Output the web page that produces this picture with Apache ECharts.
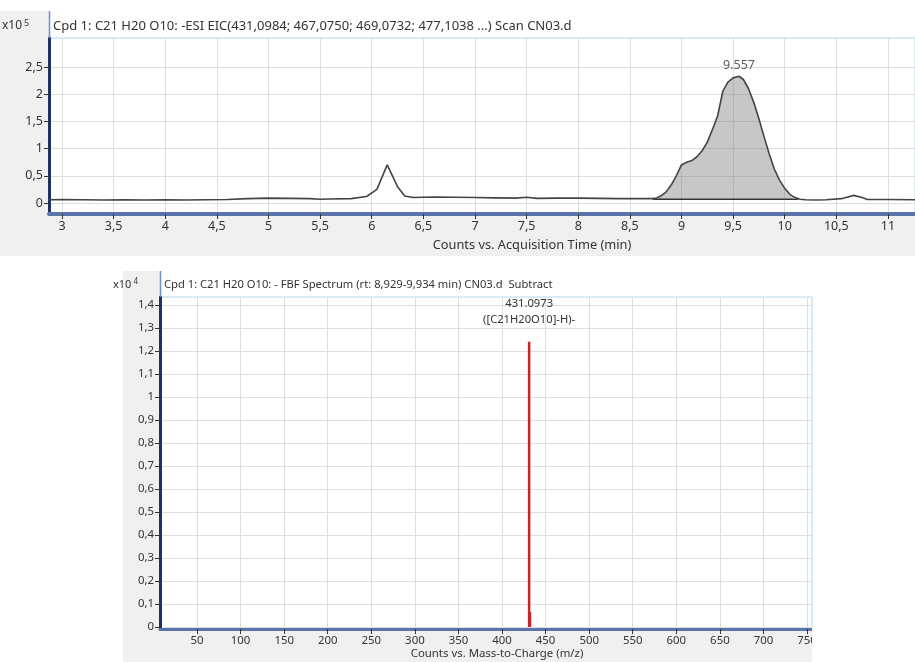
<!DOCTYPE html>
<html>
<head>
<meta charset="utf-8">
<script src="https://cdn.jsdelivr.net/npm/echarts@6/dist/echarts.min.js"></script>
<style>
html,body{margin:0;padding:0;background:#fff;}
#c{width:915px;height:662px;}
</style>
</head>
<body>
<div id="c"></div>
<script>
// ---- Top chart: EIC (x10^5 counts vs time, min)
const eicTime = [2.87,3.0,3.2,3.4,3.6,3.8,4.0,4.2,4.4,4.6,4.8,5.0,5.2,5.4,5.5,5.6,5.8,5.95,6.05,6.15,6.25,6.32,6.4,6.6,6.8,7.0,7.2,7.4,7.5,7.6,7.8,8.0,8.2,8.4,8.5,8.6,8.7,8.75,8.8,8.85,8.9,8.95,9.0,9.05,9.1,9.15,9.2,9.25,9.3,9.35,9.4,9.45,9.5,9.557,9.6,9.65,9.7,9.75,9.8,9.85,9.9,9.95,10.0,10.05,10.1,10.15,10.2,10.3,10.4,10.55,10.67,10.75,10.8,11.0,11.27];
const eicValue = [0.06,0.065,0.06,0.055,0.06,0.055,0.06,0.055,0.06,0.065,0.08,0.09,0.085,0.08,0.07,0.075,0.08,0.12,0.25,0.70,0.30,0.13,0.10,0.11,0.105,0.10,0.095,0.09,0.105,0.085,0.09,0.09,0.085,0.08,0.08,0.08,0.08,0.085,0.13,0.2,0.33,0.5,0.7,0.75,0.78,0.85,0.96,1.12,1.35,1.6,2.05,2.22,2.3,2.33,2.27,2.1,1.85,1.55,1.22,0.9,0.62,0.42,0.27,0.16,0.1,0.07,0.06,0.055,0.06,0.08,0.14,0.1,0.065,0.065,0.06];
const peakRange = [8.72, 10.13];
const peakBase = 0.07;
const peakApex = [9.557, 2.33];
const peakApexLabel = '9.557';
const eicXTicks = [3,3.5,4,4.5,5,5.5,6,6.5,7,7.5,8,8.5,9,9.5,10,10.5,11];
const eicYTicks = [0,0.5,1,1.5,2,2.5];

// ---- Bottom chart: spectrum (x10^4 counts vs m/z)
const specMz = [431.0973, 432.1];
const specValue = [1.24, 0.065];
const specLabel = ['431.0973\n([C21H20O10]-H)-', ''];
const specXTicks = [50,100,150,200,250,300,350,400,450,500,550,600,650,700,750];
const specYTicks = [0,0.1,0.2,0.3,0.4,0.5,0.6,0.7,0.8,0.9,1,1.1,1.2,1.3,1.4];

const FONT = 'Noto Sans';
const comma = v => String(+v.toFixed(2)).replace('.', ',');

const eicData = eicTime.map((t,i)=>[t, eicValue[i]]);
const peakData = eicData.filter(d => d[0] >= peakRange[0] && d[0] <= peakRange[1]);
const specData = specMz.map((m,i)=>({value:[m, specValue[i]], label:{show: !!specLabel[i], formatter: specLabel[i]}}));

const chart = echarts.init(document.getElementById('c'), null, {renderer:'canvas'});
chart.setOption({
  animation:false,
  backgroundColor:'#ffffff',
  textStyle:{fontFamily:FONT},
  graphic:[
    {type:'rect', z:-10, shape:{x:0,y:11,width:915,height:245}, style:{fill:'#f0f0f0'}, silent:true},
    {type:'rect', z:-9, shape:{x:49,y:11,width:866,height:27}, style:{fill:'#ffffff'}, silent:true},
    {type:'line', z:5, shape:{x1:49.5,y1:11,x2:49.5,y2:38}, style:{stroke:'#6f8fd0', lineWidth:1.5}},
    {type:'rect', z:-10, shape:{x:123,y:271,width:689,height:391}, style:{fill:'#f0f0f0'}, silent:true},
    {type:'rect', z:-9, shape:{x:160,y:271,width:652,height:26}, style:{fill:'#ffffff'}, silent:true},
    {type:'line', z:5, shape:{x1:160.5,y1:271,x2:160.5,y2:297}, style:{stroke:'#6f8fd0', lineWidth:1.5}},
    {type:'rect', z:100, shape:{x:812,y:628,width:103,height:34}, style:{fill:'#ffffff'}, silent:true},
    {type:'text', z:10, style:{x:2, y:26, text:'{a|x10}{b|5}', verticalAlign:'middle', rich:{a:{fontSize:12, fontFamily:FONT, fill:'#333'}, b:{fontSize:9, fontFamily:FONT, fill:'#333', verticalAlign:'top', padding:[0,0,6,2]}}}},
    {type:'text', z:10, style:{x:53, y:26, text:'Cpd 1: C21 H20 O10: -ESI EIC(431,0984; 467,0750; 469,0732; 477,1038 ...) Scan CN03.d', fontSize:13, fontFamily:FONT, fill:'#333', verticalAlign:'middle'}},
    {type:'text', z:10, style:{x:532, y:245, text:'Counts vs. Acquisition Time (min)', fontSize:12.8, fontFamily:FONT, fill:'#333', align:'center', verticalAlign:'middle'}},
    {type:'text', z:10, style:{x:113, y:285, text:'{a|x10}{b|4}', verticalAlign:'middle', rich:{a:{fontSize:11, fontFamily:FONT, fill:'#333'}, b:{fontSize:8, fontFamily:FONT, fill:'#333', verticalAlign:'top', padding:[0,0,6,2]}}}},
    {type:'text', z:10, style:{x:164, y:285, text:'Cpd 1: C21 H20 O10: - FBF Spectrum (rt: 8,929-9,934 min) CN03.d  Subtract', fontSize:11.2, fontFamily:FONT, fill:'#333', verticalAlign:'middle'}},
    {type:'text', z:10, style:{x:497, y:654, text:'Counts vs. Mass-to-Charge (m/z)', fontSize:11.4, fontFamily:FONT, fill:'#333', align:'center', verticalAlign:'middle'}}
  ],
  grid:[
    {left:49, top:38, width:866, height:176, show:true, backgroundColor:'#ffffff', borderColor:'#b8d4f0', borderWidth:1},
    {left:160, top:297, width:652, height:332, show:true, backgroundColor:'#ffffff', borderColor:'#b8d4f0', borderWidth:1}
  ],
  xAxis:[
    {type:'value', gridIndex:0, min:2.874, max:11.262,
     axisLine:{show:true, onZero:false, lineStyle:{color:'#5a74aa', width:4}},
     axisTick:{show:true, length:5, customValues:eicXTicks, lineStyle:{color:'#333', width:1}},
     axisLabel:{customValues:eicXTicks, formatter:comma, color:'#333', fontSize:12.5, margin:6, fontFamily:FONT},
     splitLine:{show:true, lineStyle:{color:'#dedede', width:1}}},
    {type:'value', gridIndex:1, min:7.5, max:755.7,
     axisLine:{show:true, onZero:false, lineStyle:{color:'#5a74aa', width:3}},
     axisTick:{show:true, length:5, customValues:specXTicks, lineStyle:{color:'#333', width:1}},
     axisLabel:{customValues:specXTicks, color:'#333', fontSize:11.4, margin:6, fontFamily:FONT},
     splitLine:{show:true, lineStyle:{color:'#dedede', width:1}}}
  ],
  yAxis:[
    {type:'value', gridIndex:0, min:-0.202, max:3.033,
     axisLine:{show:true, onZero:false, lineStyle:{color:'#1d3263', width:3}},
     axisTick:{show:true, length:5, customValues:eicYTicks, lineStyle:{color:'#333', width:1}},
     axisLabel:{customValues:eicYTicks, formatter:comma, color:'#333', fontSize:12.5, margin:6, fontFamily:FONT},
     splitLine:{show:true, lineStyle:{color:'#dedede', width:1}}},
    {type:'value', gridIndex:1, min:-0.0087, max:1.435,
     axisLine:{show:true, onZero:false, lineStyle:{color:'#1d3263', width:3}},
     axisTick:{show:true, length:5, customValues:specYTicks, lineStyle:{color:'#333', width:1}},
     axisLabel:{customValues:specYTicks, formatter:comma, color:'#333', fontSize:11.4, margin:6, fontFamily:FONT},
     splitLine:{show:true, lineStyle:{color:'#dedede', width:1}}}
  ],
  series:[
    {type:'line', xAxisIndex:0, yAxisIndex:0, data:peakData, symbol:'none', silent:true,
     lineStyle:{width:0}, areaStyle:{color:'rgba(110,110,110,0.55)', origin:peakBase}, z:2},
    {type:'line', xAxisIndex:0, yAxisIndex:0, data:[[peakRange[0], peakBase],[peakRange[1], peakBase]], symbol:'none', silent:true,
     lineStyle:{color:'#333', width:1.5}, z:3},
    {type:'line', xAxisIndex:0, yAxisIndex:0, data:eicData, symbol:'none', silent:true,
     lineStyle:{color:'#444', width:1.6}, z:4},
    {type:'scatter', xAxisIndex:0, yAxisIndex:0, data:[peakApex], symbolSize:0, silent:true,
     label:{show:true, position:'top', distance:4, formatter:peakApexLabel, color:'#333', fontSize:12.5, fontFamily:FONT}},
    {type:'bar', xAxisIndex:1, yAxisIndex:1, data:specData, barWidth:2.5, silent:true,
     itemStyle:{color:'#c6252c'},
     label:{position:'top', distance:14, color:'#333', fontSize:11.2, lineHeight:16, fontFamily:FONT, align:'center'}}
  ]
});
</script>
</body>
</html>
